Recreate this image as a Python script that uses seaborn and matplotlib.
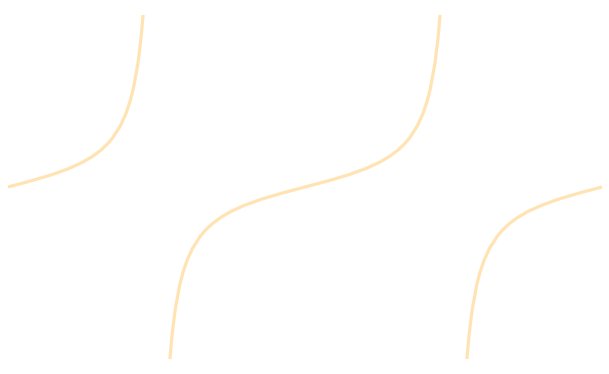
import numpy as np
import pandas as pd
import seaborn as sns
import matplotlib
matplotlib.use("Agg")
import matplotlib.pyplot as plt

# Half of one tangent branch (x in radians, y value)
half_x = [0.0, 0.245, 0.4636, 0.6435, 0.7854, 0.8961, 0.9828, 1.0517, 1.1071,
          1.1903, 1.2490, 1.2925, 1.3258, 1.3734, 1.4056, 1.4289]
half_y = [0.0, 0.25, 0.5, 0.75, 1.0, 1.25, 1.5, 1.75, 2.0,
          2.5, 3.0, 3.5, 4.0, 5.0, 6.0, 7.0]

line_color = "orange"
line_alpha = 0.3

hx = np.array(half_x)
hy = np.array(half_y)
segments = [
    pd.DataFrame({"x": hx - np.pi, "y": hy}),       # left branch, rising to +7
    pd.DataFrame({"x": -hx, "y": -hy}),             # middle branch, lower half
    pd.DataFrame({"x": hx, "y": hy}),               # middle branch, upper half
    pd.DataFrame({"x": np.pi - hx, "y": -hy}),      # right branch, from -7
]

sns.set_style("white")
fig = plt.figure(figsize=(6.09, 3.74), dpi=100)
ax = fig.add_axes([0, 0, 1, 1])

for seg in segments:
    sns.lineplot(data=seg, x="x", y="y", ax=ax, color=line_color,
                 alpha=line_alpha, linewidth=2.3, sort=True,
                 solid_capstyle="butt")

ax.set_xlim(-1.0269 * np.pi, 1.0236 * np.pi)
ax.set_ylim(-7.61, 7.61)
ax.axis("off")

fig.savefig("out.png", dpi=100)
